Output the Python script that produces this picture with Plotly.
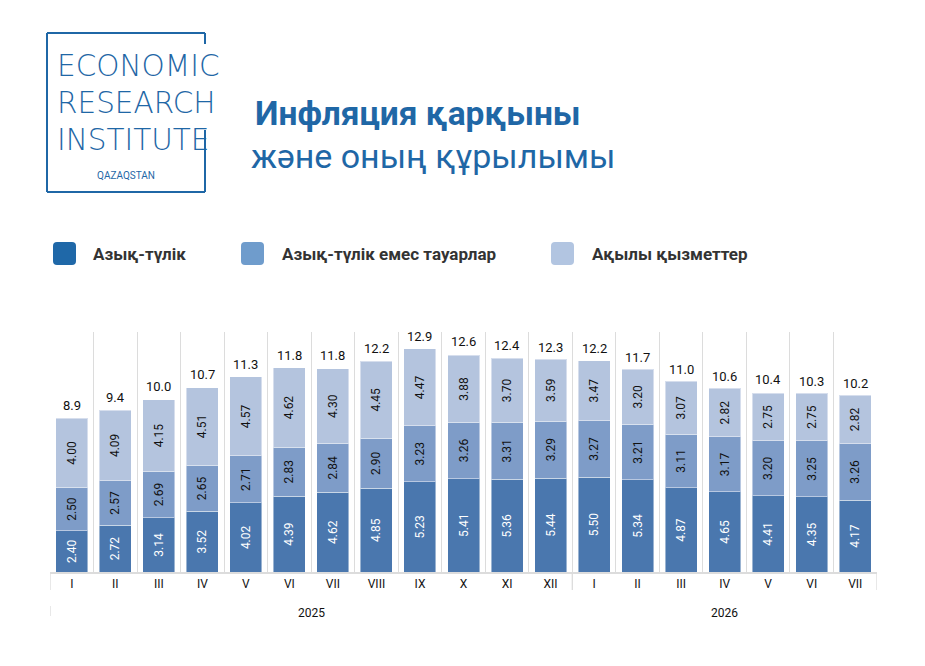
import plotly.graph_objects as go

# ---------------- data ----------------
years = ["2025"] * 12 + ["2026"] * 7
months = ["I", "II", "III", "IV", "V", "VI", "VII", "VIII", "IX", "X", "XI", "XII",
          "I", "II", "III", "IV", "V", "VI", "VII"]
food = [2.40, 2.72, 3.14, 3.52, 4.02, 4.39, 4.62, 4.85, 5.23, 5.41, 5.36, 5.44,
        5.50, 5.34, 4.87, 4.65, 4.41, 4.35, 4.17]
nonfood = [2.50, 2.57, 2.69, 2.65, 2.71, 2.83, 2.84, 2.90, 3.23, 3.26, 3.31, 3.29,
           3.27, 3.21, 3.11, 3.17, 3.20, 3.25, 3.26]
services = [4.00, 4.09, 4.15, 4.51, 4.57, 4.62, 4.30, 4.45, 4.47, 3.88, 3.70, 3.59,
            3.47, 3.20, 3.07, 2.82, 2.75, 2.75, 2.82]
totals = [8.9, 9.4, 10.0, 10.7, 11.3, 11.8, 11.8, 12.2, 12.9, 12.6, 12.4, 12.3,
          12.2, 11.7, 11.0, 10.6, 10.4, 10.3, 10.2]
series_names = ["Азық-түлік", "Азық-түлік емес тауарлар", "Ақылы қызметтер"]
title_line1 = "Инфляция қарқыны"
title_line2 = "және оның құрылымы"
logo_lines = ["ECONOMIC", "RESEARCH", "INSTITUTE"]
logo_sub = "QAZAQSTAN"

# ---------------- style ----------------
FONT = "Roboto"
LOGO_FONT = "DejaVu Sans"
BAR_COLORS = ["#4a77ae", "#7e9cc8", "#b4c4de"]
LEGEND_COLORS = ["#1f68a8", "#6f9ccc", "#b2c5e1"]
BRAND = "#1f67a6"
GRID = "#dcdcdc"
TEXT_COLORS = ["white", "#111111", "#111111"]

W, H = 925, 666
L, R, T, B = 50, 877, 332, 572


def px(x):
    return (x - L) / (R - L)


def py(y):
    return (B - y) / (B - T)


cats = [f"{m} {y}" for m, y in zip(months, years)]
n = len(cats)

fig = go.Figure()
for vals, name, col, tcol in zip([food, nonfood, services], series_names, BAR_COLORS, TEXT_COLORS):
    fig.add_trace(go.Bar(
        x=cats, y=vals, name=name,
        marker=dict(color=col, line=dict(color="rgba(255,255,255,0.45)", width=1)),
        text=[f"{v:.2f}" for v in vals],
        textposition="inside", insidetextanchor="middle", textangle=-90,
        textfont=dict(family=FONT, size=12, color=tcol),
        constraintext="none", hoverinfo="skip", showlegend=False,
    ))

shapes = []
annotations = []

# totals above bars
for c, v in zip(cats, totals):
    annotations.append(dict(xref="x", yref="y", x=c, y=v, yshift=12.5,
                            xanchor="center", yanchor="middle", showarrow=False,
                            text=f"{v:.1f}", font=dict(family=FONT, size=13, color="#111111")))

# year group labels and dividers (derived from the year list)
groups = []
for i, y in enumerate(years):
    if not groups or groups[-1][0] != y:
        groups.append([y, i, i])
    else:
        groups[-1][2] = i
div_y0, div_y1 = py(572), py(590)
boundaries = [groups[0][1] - 0.5] + [g[2] + 0.5 for g in groups]
for bx in boundaries:
    shapes.append(dict(type="line", xref="x", yref="paper", x0=bx, x1=bx,
                       y0=div_y0, y1=div_y1, line=dict(color=GRID, width=1.3)))
for y, i0, i1 in groups:
    annotations.append(dict(xref="x", yref="paper", x=(i0 + i1) / 2, y=py(613),
                            xanchor="center", yanchor="middle", showarrow=False, text=y,
                            font=dict(family=FONT, size=12, color="#111111")))
shapes.append(dict(type="line", xref="x", yref="paper", x0=boundaries[0], x1=boundaries[0],
                   y0=py(606), y1=py(616), line=dict(color=GRID, width=1.3)))

# legend (custom)
leg_boxes = [(53, 76), (241, 264), (551, 574)]
leg_text_x = [91, 280, 590]
for (x0, x1), tx, name, col in zip(leg_boxes, leg_text_x, series_names, LEGEND_COLORS):
    y0, y1 = 242, 265
    r = 4
    path = (f"M {px(x0+r)},{py(y0)} L {px(x1-r)},{py(y0)} "
            f"Q {px(x1)},{py(y0)} {px(x1)},{py(y0+r)} L {px(x1)},{py(y1-r)} "
            f"Q {px(x1)},{py(y1)} {px(x1-r)},{py(y1)} L {px(x0+r)},{py(y1)} "
            f"Q {px(x0)},{py(y1)} {px(x0)},{py(y1-r)} L {px(x0)},{py(y0+r)} "
            f"Q {px(x0)},{py(y0)} {px(x0+r)},{py(y0)} Z")
    shapes.append(dict(type="path", xref="paper", yref="paper", path=path,
                       fillcolor=col, line=dict(width=0)))
    annotations.append(dict(xref="paper", yref="paper", x=px(tx), y=py(253.5),
                            xanchor="left", yanchor="middle", showarrow=False,
                            text=name, font=dict(family=FONT, size=17, color="#333333", weight="bold")))

# logo frame
lw = 2
segs = [((47, 33), (205, 33)), ((47, 33), (47, 192)), ((47, 192), (205, 192)),
        ((205, 33), (205, 44)), ((205, 130), (205, 192))]
for (xa, ya), (xb, yb) in segs:
    shapes.append(dict(type="line", xref="paper", yref="paper",
                       x0=px(xa), y0=py(ya), x1=px(xb), y1=py(yb),
                       line=dict(color=BRAND, width=lw)))
for i, t in enumerate(logo_lines):
    annotations.append(dict(xref="paper", yref="paper", x=px(55), y=py(66 + 37 * i),
                            xanchor="left", yanchor="middle", showarrow=False, text=t,
                            font=dict(family=LOGO_FONT, size=29.5, color=BRAND, weight=200)))
annotations.append(dict(xref="paper", yref="paper", x=px(126), y=py(175),
                        xanchor="center", yanchor="middle", showarrow=False, text=logo_sub,
                        font=dict(family=FONT, size=10, color=BRAND, weight=400)))

# title
annotations.append(dict(xref="paper", yref="paper", x=px(253), y=py(114),
                        xanchor="left", yanchor="middle", showarrow=False, text=title_line1,
                        font=dict(family=FONT, size=33.5, color=BRAND, weight="bold")))
annotations.append(dict(xref="paper", yref="paper", x=px(249), y=py(156),
                        xanchor="left", yanchor="middle", showarrow=False, text=title_line2,
                        font=dict(family=FONT, size=34, color=BRAND)))

fig.update_layout(
    width=W, height=H,
    margin=dict(l=L, r=W - R, t=T, b=H - B),
    paper_bgcolor="white", plot_bgcolor="white",
    barmode="stack", bargap=0.265,
    font=dict(family=FONT, color="#111111"),
    shapes=shapes, annotations=annotations,
    showlegend=False,
)
fig.update_xaxes(
    type="category", range=[-0.5, n - 0.5],
    tickmode="array", tickvals=cats, ticktext=months,
    showgrid=True, gridcolor=GRID, gridwidth=1.3,
    tickson="boundaries", ticks="", showline=True, linecolor=GRID, linewidth=1.5,
    tickfont=dict(family=FONT, size=12, color="#111111"), fixedrange=True,
)
fig.update_yaxes(range=[0, 13.9], visible=False, showgrid=False, fixedrange=True)

fig.write_html("out.html", config={"displayModeBar": False},
               post_script="document.body.style.margin='0px';")
